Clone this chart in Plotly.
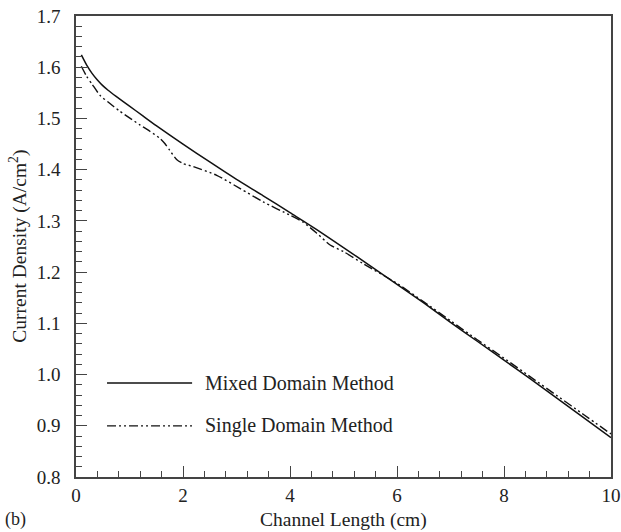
import plotly.graph_objects as go

# Mixed Domain Method (solid)
mixed_x = [0.1, 0.2, 0.3, 0.4, 0.5, 0.6, 0.75, 1.0, 1.25, 1.5, 2.0, 2.5, 3.0, 3.5, 4.0,
           4.5, 5.0, 5.5, 6.0, 6.5, 7.0, 7.5, 8.0, 8.5, 9.0, 9.5, 10.0]
mixed_y = [1.624, 1.604, 1.588, 1.575, 1.564, 1.555, 1.543, 1.524, 1.505, 1.486, 1.450,
           1.415, 1.381, 1.349, 1.316, 1.283, 1.248, 1.212, 1.176, 1.140, 1.102, 1.065,
           1.028, 0.991, 0.953, 0.915, 0.877]

# Single Domain Method (dash-dot-dot)
single_x = [0.1, 0.2, 0.3, 0.45, 0.6, 0.82, 1.0, 1.2, 1.38, 1.57, 1.66, 1.75, 1.88, 2.0,
            2.19, 2.63, 3.07, 3.5, 4.0, 4.24, 4.5, 4.75, 5.0, 5.36, 6.0, 6.5, 7.0, 7.5,
            8.0, 8.5, 9.0, 9.5, 10.0]
single_y = [1.602, 1.582, 1.567, 1.545, 1.532, 1.514, 1.501, 1.487, 1.475, 1.461, 1.451,
            1.438, 1.420, 1.412, 1.406, 1.389, 1.363, 1.337, 1.311, 1.298, 1.276, 1.253,
            1.240, 1.217, 1.178, 1.142, 1.105, 1.068, 1.032, 0.995, 0.958, 0.921, 0.884]

legend_names = ["Mixed Domain Method", "Single Domain Method"]
x_ticks = [0, 2, 4, 6, 8, 10]
y_ticks = [0.8, 0.9, 1.0, 1.1, 1.2, 1.3, 1.4, 1.5, 1.6, 1.7]
x_title = "Channel Length (cm)"
y_title = "Current Density (A/cm<sup>2</sup>)"
panel_label = "(b)"

FONT = "Liberation Serif, Times New Roman, serif"
INK = "#222222"
DASHDOT = "9px,3px,2px,3px,2px,3px"

fig = go.Figure()
fig.add_trace(go.Scatter(x=mixed_x, y=mixed_y, mode="lines", name=legend_names[0],
                         line=dict(color="#111111", width=1.5, shape="spline", smoothing=0.6)))
fig.add_trace(go.Scatter(x=single_x, y=single_y, mode="lines", name=legend_names[1],
                         line=dict(color="#111111", width=1.4, dash=DASHDOT, shape="spline",
                                   smoothing=0.6)))

# manual legend (samples + labels)
legend_rows = [0.204, 0.111]
styles = ["solid", DASHDOT]
for name, yy, st in zip(legend_names, legend_rows, styles):
    fig.add_shape(type="line", xref="x domain", yref="y domain", x0=0.058, x1=0.217,
                  y0=yy, y1=yy, line=dict(color="#111111", width=1.4, dash=st))
    fig.add_annotation(xref="x domain", yref="y domain", x=0.238, y=yy, text=name,
                       showarrow=False, xanchor="left", yanchor="middle",
                       font=dict(family=FONT, size=20, color=INK))

# axis titles and panel label
fig.add_annotation(xref="paper", yref="paper", x=0.5, y=-0.093, text=x_title, showarrow=False,
                   xanchor="center", yanchor="middle",
                   font=dict(family=FONT, size=19.5, color=INK))
fig.add_annotation(xref="paper", yref="paper", x=-0.108, y=0.5, text=y_title, showarrow=False,
                   textangle=-90, xanchor="center", yanchor="middle",
                   font=dict(family=FONT, size=19.5, color=INK))
fig.add_annotation(xref="paper", yref="paper", x=-0.137, y=-0.093, text=panel_label,
                   showarrow=False, xanchor="left", yanchor="middle",
                   font=dict(family=FONT, size=18, color=INK))

axis_common = dict(showline=True, linecolor="#444444", linewidth=1.5, mirror=True,
                   ticks="inside", ticklen=11, tickwidth=1.3, tickcolor="#444444",
                   showgrid=False, zeroline=False, automargin=False,
                   tickfont=dict(family=FONT, size=19, color=INK))

fig.update_xaxes(range=[0, 10], tickvals=x_ticks,
                 minor=dict(ticks="inside", dtick=0.4, ticklen=6, tickwidth=1.2,
                            tickcolor="#444444"),
                 **axis_common)
fig.update_yaxes(range=[0.8, 1.7], tickvals=y_ticks, tickformat=".1f", ticklabelstandoff=10,
                 minor=dict(ticks="inside", dtick=0.02, ticklen=6, tickwidth=1.2,
                            tickcolor="#444444"),
                 **axis_common)

fig.update_layout(width=621, height=532, margin=dict(l=76, r=10, t=16, b=55),
                  plot_bgcolor="white", paper_bgcolor="white", showlegend=False,
                  font=dict(family=FONT, color=INK))

fig.write_html("out.html")
